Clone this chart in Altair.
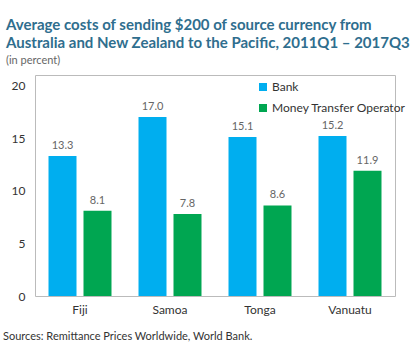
import altair as alt
import pandas as pd

countries = ["Fiji", "Samoa", "Tonga", "Vanuatu"]
bank = [13.3, 17.0, 15.1, 15.2]
mto = [8.1, 7.8, 8.6, 11.9]
series = ["Bank", "Money Transfer Operator"]
colors = ["#00AEEF", "#00A651"]
y_ticks = [0, 5, 10, 15, 20]
title_lines = ["Average costs of sending $200 of source currency from",
               "Australia and New Zealand to the Pacific, 2011Q1 \u2013 2017Q3"]
subtitle = "(in percent)"
footer = "Sources: Remittance Prices Worldwide, World Bank."

rows = []
for i, c in enumerate(countries):
    rows.append({"country": c, "series": series[0], "value": bank[i], "label": f"{bank[i]:.1f}"})
    rows.append({"country": c, "series": series[1], "value": mto[i], "label": f"{mto[i]:.1f}"})
df = pd.DataFrame(rows)

W, H = 360, 221
FONT = "Lato"

x = alt.X("country:N", sort=countries,
          scale=alt.Scale(paddingInner=0, paddingOuter=0),
          axis=alt.Axis(title=None, labelAngle=0, ticks=False, domain=False,
                        labelFontSize=12, labelColor="#333333", labelPadding=8, labelFont=FONT))
xo = alt.XOffset("series:N", sort=series, scale=alt.Scale(paddingInner=0.2, paddingOuter=0.386))
y = alt.Y("value:Q", scale=alt.Scale(domain=[0, 21], nice=False),
          axis=alt.Axis(title=None, values=y_ticks, grid=False, ticks=False, domain=False,
                        labelFontSize=12, labelColor="#333333", labelPadding=10, labelFont=FONT))

base = alt.Chart(df)
bars = base.mark_bar().encode(
    x=x, xOffset=xo, y=y,
    color=alt.Color("series:N", sort=series,
                    scale=alt.Scale(domain=series, range=colors),
                    legend=alt.Legend(title=None, orient="none", legendX=222, legendY=6,
                                      symbolType="square", symbolSize=64, symbolStrokeWidth=0,
                                      labelFontSize=12, labelColor="#333333", labelFont=FONT,
                                      rowPadding=9, symbolOffset=0, labelOffset=3)),
)
labels = base.mark_text(baseline="bottom", dy=-5, fontSize=11, color="#666666", font=FONT).encode(
    x=x, xOffset=xo, y=y, text="label:N")

foot = alt.Chart(pd.DataFrame({"t": [footer]})).mark_text(
    align="left", baseline="alphabetic", fontSize=11, color="#333333", font=FONT
).encode(x=alt.value(-32), y=alt.value(H + 44), text="t:N")

chart = alt.layer(bars, labels, foot).properties(
    width=W, height=H,
    autosize=alt.AutoSizeParams(type="none"),
    padding={"left": 35, "top": 75, "right": 15, "bottom": 53},
    title=alt.TitleParams(
        text=title_lines, subtitle=subtitle, anchor="start", frame="group",
        font=FONT, fontSize=15, fontWeight="bold", color="#2F6E8E",
        lineHeight=18, subtitleFont=FONT, subtitleFontSize=11, subtitleColor="#666666",
        subtitlePadding=4, dx=-29, offset=9),
).configure_view(stroke="#BBBBBB", strokeWidth=1)

chart.save("out.html", embed_options={"renderer": "svg", "actions": False})
